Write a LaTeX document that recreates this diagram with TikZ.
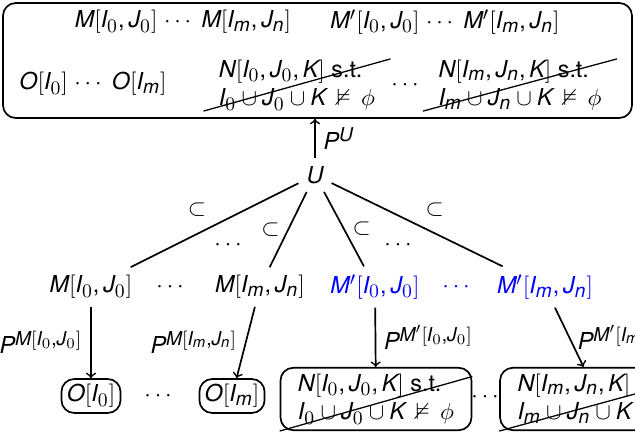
\documentclass[tikz,border=0pt,11pt]{standalone}
\usepackage{amsmath,amssymb}
\usepackage{fontspec}
\setmainfont{TeX Gyre Heros}
\usepackage[italic]{mathastext}
\usetikzlibrary{positioning,shapes.misc,fit}
\thickmuskip=8mu plus 2mu

\begin{document}
\begin{tikzpicture}[x=0.47pt,y=-0.47pt,>=to,
  box/.style={draw,thick,rounded corners=6pt,inner sep=2.5pt},
  cut/.style={strike out,draw,semithick,align=left,inner xsep=7pt,inner ysep=0pt},
  link/.style={thick}]
  \clip (0,0) rectangle (635,433);

  % Outer summary box.
  \node[box,fit={(3,3) (632,118)},inner sep=0pt] (top) {};
  \node (mrow) at (183,22) {$M[I_0,J_0]$ $\cdots$ $M[I_m,J_n]$};
  \node (mprow) at (445,22) {$M'[I_0,J_0]$ $\cdots$ $M'[I_m,J_n]$};
  \node (orow) at (93,84) {$O[I_0]$ $\cdots$ $O[I_m]$};
  \node[cut] (ntopa) at (297,85)
    {$N[I_0,J_0,K]$ s.t.\\$I_0\cup J_0\cup K\nvDash\phi$};
  \node (dtop) at (407,85) {$\cdots$};
  \node[cut] (ntopb) at (520,85)
    {$N[I_m,J_n,K]$ s.t.\\$I_m\cup J_n\cup K\nvDash\phi$};

  % Root and projection to the box.
  \node (u) at (315,175) {$U$};
  \draw[link,->] (u) -- (u |- top.south) node[midway,right] {$P^U$};

  % Second level.
  \node (ma) at (91,287) {$M[I_0,J_0]$};
  \node (dma) at (172,287) {$\cdots$};
  \node (mb) at (260,287) {$M[I_m,J_n]$};
  \node[text=blue] (mpa) at (375,287) {$M'[I_0,J_0]$};
  \node[text=blue] (dmp) at (458,287) {$\cdots$};
  \node[text=blue] (mpb) at (545,287) {$M'[I_m,J_n]$};
  \node (dsa) at (230,245) {$\cdots$};
  \node (dsb) at (400,245) {$\cdots$};

  \draw[link] (u) -- node[above left] {$\subset$} (ma);
  \draw[link] (u) -- node[left] {$\subset$} (mb);
  \draw[link] (u) -- node[right] {$\subset$} (mpa);
  \draw[link] (u) -- node[above right] {$\subset$} (mpb);

  % Bottom level.
  \node[box] (oa) at (91,396) {$O[I_0]$};
  \node (doa) at (160,396) {$\cdots$};
  \node[box] (ob) at (232,396) {$O[I_m]$};
  \node[align=left,inner xsep=7pt,inner ysep=0pt] (na) at (376,399)
    {$N[I_0,J_0,K]$ s.t.\\$I_0\cup J_0\cup K\nvDash\phi$};
  \node[box,fit=(na),inner xsep=1pt,inner ysep=2.5pt] (nabox) {};
  \draw[semithick] (nabox.south west) -- ([yshift=-4.5pt]nabox.north east);
  \node (dna) at (487,397) {$\cdots$};
  \node[align=left,inner xsep=7pt,inner ysep=0pt] (nb) at (599,399)
    {$N[I_m,J_n,K]$ s.t.\\$I_m\cup J_n\cup K\nvDash\phi$};
  \node[box,fit=(nb),inner xsep=1pt,inner ysep=2.5pt] (nbbox) {};
  \draw[semithick] (nbbox.south west) -- ([yshift=-4.5pt]nbbox.north east);

  \draw[link,->] (ma) -- node[left] {$P^{M[I_0,J_0]}$} (oa);
  \draw[link,->] (mb) -- node[left] {$P^{M[I_m,J_n]}$} (ob);
  \draw[link,->] (mpa) -- node[right] {$P^{M'[I_0,J_0]}$} (nabox);
  \draw[link,->] (mpb) -- node[right] {$P^{M'[I_m,J_n]}$} (nbbox);
\end{tikzpicture}
\end{document}
